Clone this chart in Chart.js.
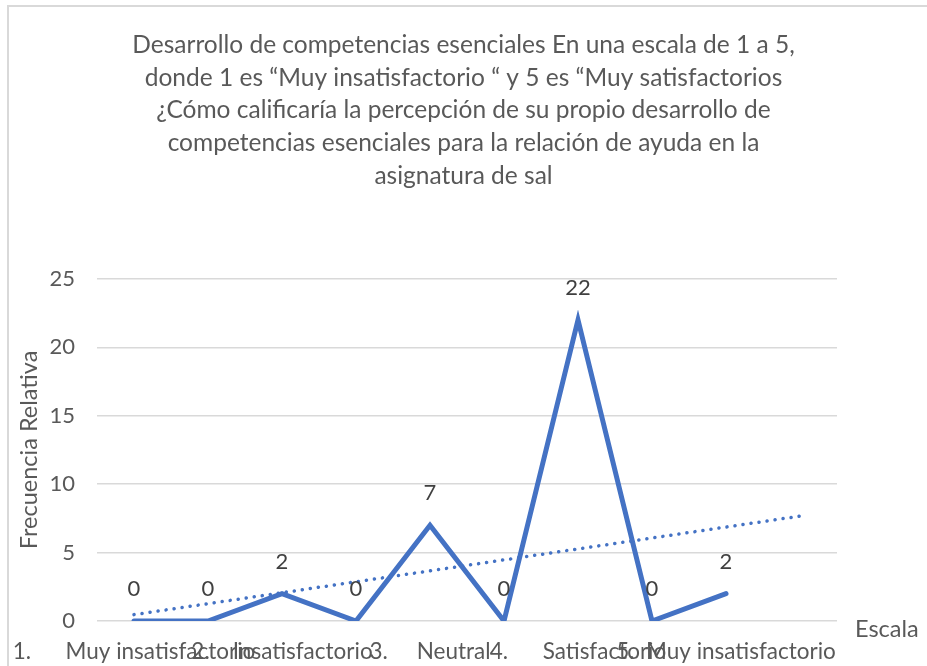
<!DOCTYPE html>
<html>
<head>
<meta charset="utf-8">
<script src="https://cdn.jsdelivr.net/npm/chart.js@4.4.0/dist/chart.umd.min.js"></script>
<style>
    body { margin: 0; background: #ffffff; }
    #wrap { position: relative; width: 927px; height: 666px; overflow: hidden; }
    #frame {
        position: absolute; left: 7px; top: 5px; width: 940px; height: 680px;
        border-left: 2px solid #d9d9d9; border-top: 2px solid #d9d9d9;
        pointer-events: none;
    }
</style>
</head>
<body>
<div id="wrap">
    <canvas id="chart" width="927" height="666"></canvas>
    <div id="frame"></div>
</div>
<script>
// Category labels (odd slots carry the text, even slots are blank in the source sheet)
const categories = [
    "1.      Muy insatisfactorio", "",
    "2.    Insatisfactorio", "",
    "3.     Neutral", "",
    "4.      Satisfactorio", "",
    "5.  Muy insatisfactorio", ""
];
const frequencies = [0, 0, 2, 0, 7, 0, 22, 0, 2];
const yTicks = [0, 5, 10, 15, 20, 25];

const titleLines = [
    "Desarrollo de competencias esenciales En una escala de 1 a 5,",
    "donde 1 es “Muy insatisfactorio “ y 5 es “Muy satisfactorios",
    "¿Cómo calificaría la percepción de su propio desarrollo de",
    "competencias esenciales para la relación de ayuda en la",
    "asignatura de sal"
];
const yTitle = "Frecuencia Relativa";
const xTitle = "Escala";

const FONT = "Lato, 'Open Sans', sans-serif";
const lineColor = '#4472C4';
const textColor = '#595959';

/**
 * Linear trendline (least squares) over the series, projected one slot forward
 */
function buildTrendline(values, totalSlots) {
    let n = values.length;
    let sumX = 0, sumY = 0;
    for (let i = 0; i < n; i++) {
        sumX += i;
        sumY += values[i];
    }
    let meanX = sumX / n;
    let meanY = sumY / n;
    let num = 0, den = 0;
    for (let i = 0; i < n; i++) {
        num += (i - meanX) * (values[i] - meanY);
        den += (i - meanX) * (i - meanX);
    }
    let slope = num / den;
    let trend = [];
    for (let i = 0; i < totalSlots; i++) {
        trend.push(meanY + slope * (i - meanX));
    }
    return trend;
}

// Draws the value above every point of the main line
const valueLabels = {
    id: 'valueLabels',
    afterDatasetsDraw(chart) {
        let ctx = chart.ctx;
        let meta = chart.getDatasetMeta(0);
        ctx.save();
        ctx.font = "22px " + FONT;
        ctx.fillStyle = '#404040';
        ctx.textAlign = 'center';
        ctx.textBaseline = 'middle';
        meta.data.forEach((point, i) => {
            ctx.fillText(String(frequencies[i]), point.x, point.y - 32);
        });
        ctx.restore();
    }
};

// Axis title for x sits to the right of the plot, at the baseline
const sideTitle = {
    id: 'sideTitle',
    afterDraw(chart) {
        let ctx = chart.ctx;
        let y0 = chart.scales.y.getPixelForValue(0);
        ctx.save();
        ctx.font = "23.5px " + FONT;
        ctx.fillStyle = textColor;
        ctx.textAlign = 'left';
        ctx.textBaseline = 'middle';
        ctx.fillText(xTitle, chart.chartArea.right + 18, y0 + 8);
        ctx.restore();
    }
};

const config = {
    type: 'line',
    data: {
        labels: categories,
        datasets: [
            {
                label: 'Frecuencia',
                data: frequencies,
                borderColor: lineColor,
                borderWidth: 5,
                borderJoinStyle: 'miter',
                borderCapStyle: 'round',
                pointRadius: 0,
                tension: 0,
                fill: false
            },
            {
                label: 'Lineal',
                data: buildTrendline(frequencies, categories.length),
                borderColor: lineColor,
                borderWidth: 3.5,
                borderDash: [0.1, 8],
                borderCapStyle: 'round',
                pointRadius: 0,
                tension: 0,
                fill: false
            }
        ]
    },
    options: {
        responsive: false,
        animation: false,
        layout: { padding: 0 },
        plugins: {
            legend: { display: false },
            tooltip: { enabled: false },
            title: {
                display: true,
                text: titleLines,
                color: textColor,
                font: { family: FONT, size: 24.5, weight: 'normal', lineHeight: 1.33 },
                padding: { top: 29, bottom: 87 }
            }
        },
        scales: {
            x: {
                offset: true,
                grid: { display: false },
                border: { display: false },
                ticks: {
                    autoSkip: false,
                    maxRotation: 0,
                    minRotation: 0,
                    color: textColor,
                    font: { family: FONT, size: 22.5 },
                    padding: 9
                },
                afterFit: function (scale) {
                    scale.height = 45;
                    // the long first label may run past the plot, like in the source
                    scale.paddingLeft = 0;
                    scale.paddingRight = 0;
                }
            },
            y: {
                min: 0,
                max: 25,
                grid: { color: '#d9d9d9', lineWidth: 1.5, drawTicks: false },
                border: { display: false },
                afterBuildTicks: function (scale) {
                    scale.ticks = yTicks.map(v => ({ value: v }));
                },
                ticks: {
                    color: textColor,
                    font: { family: FONT, size: 22 },
                    padding: 22
                },
                title: {
                    display: true,
                    text: yTitle,
                    color: textColor,
                    font: { family: FONT, size: 23.5 },
                    padding: { top: 15, bottom: 0 }
                },
                afterFit: function (scale) {
                    scale.width = 97;
                }
            },
            // empty right-hand box that keeps room for the "Escala" caption
            yRight: {
                position: 'right',
                display: true,
                grid: { display: false },
                border: { display: false },
                ticks: { display: false },
                afterFit: function (scale) {
                    scale.width = 90;
                }
            }
        }
    },
    plugins: [valueLabels, sideTitle]
};

new Chart(document.getElementById("chart"), config);
</script>
</body>
</html>
